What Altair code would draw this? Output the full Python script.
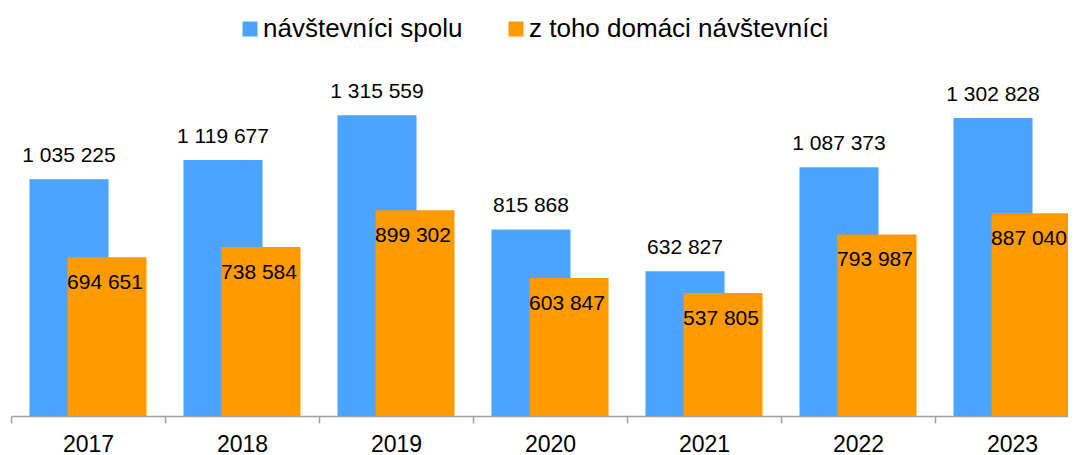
import altair as alt
import pandas as pd

years = ["2017", "2018", "2019", "2020", "2021", "2022", "2023"]
total_visitors = [1035225, 1119677, 1315559, 815868, 632827, 1087373, 1302828]
domestic_visitors = [694651, 738584, 899302, 603847, 537805, 793987, 887040]
series_names = ["návštevníci spolu", "z toho domáci návštevníci"]
series_colors = ["#4BA4FF", "#FF9A00"]


def fmt(v):
    return f"{v:,}".replace(",", " ")


df_total = pd.DataFrame({
    "year": years,
    "value": total_visitors,
    "series": series_names[0],
    "label": [fmt(v) for v in total_visitors],
})
df_dom = pd.DataFrame({
    "year": years,
    "value": domestic_visitors,
    "series": series_names[1],
    "label": [fmt(v) for v in domestic_visitors],
})

FONT = "Liberation Sans"

x_enc = alt.X(
    "year:N",
    sort=years,
    scale=alt.Scale(range=[0, 1078], paddingInner=0, paddingOuter=0),
    axis=alt.Axis(
        title=None,
        tickBand="extent",
        labelAngle=0,
        labelFontSize=23,
        labelFont=FONT,
        labelColor="#000000",
        labelBaseline="alphabetic",
        labelPadding=28,
        tickSize=7,
        tickColor="#A0A0A0",
        tickWidth=1.5,
        domainColor="#A0A0A0",
        domainWidth=1.5,
        grid=False,
    ),
)
y_enc = alt.Y(
    "value:Q",
    scale=alt.Scale(domain=[0, 1500000], nice=False, zero=True),
    axis=None,
)
color_enc = alt.Color(
    "series:N",
    scale=alt.Scale(domain=series_names, range=series_colors),
    legend=alt.Legend(
        title=None,
        orient="none",
        direction="horizontal",
        legendX=226,
        legendY=-57,
        symbolType="square",
        symbolSize=225,
        symbolStrokeWidth=0,
        labelFontSize=26,
        labelFont=FONT,
        labelColor="#000000",
        labelOffset=0,
        columnPadding=40,
        labelLimit=400,
    ),
)

bars_total = alt.Chart(df_total).mark_bar(width=79, xOffset=-19).encode(
    x=x_enc, y=y_enc, color=color_enc
)
bars_dom = alt.Chart(df_dom).mark_bar(width=79, xOffset=19).encode(
    x=x_enc, y=y_enc, color=color_enc
)
text_total = alt.Chart(df_total).mark_text(
    dx=-19, dy=-23, fontSize=21, font=FONT, color="#000000", baseline="middle"
).encode(x=x_enc, y=y_enc, text="label:N")
text_dom = alt.Chart(df_dom).mark_text(
    dx=17, dy=26, fontSize=21, font=FONT, color="#000000", baseline="middle"
).encode(x=x_enc, y=y_enc, text="label:N")

chart = (
    alt.layer(bars_total, bars_dom, text_total, text_dom)
    .properties(
        width=1052,
        height=343,
        autosize=alt.AutoSizeParams(type="none"),
        padding={"left": 3, "top": 65, "right": 5, "bottom": 39},
    )
    .configure_view(stroke=None)
)

chart.save("out.html", embed_options={"renderer": "svg", "actions": False})
